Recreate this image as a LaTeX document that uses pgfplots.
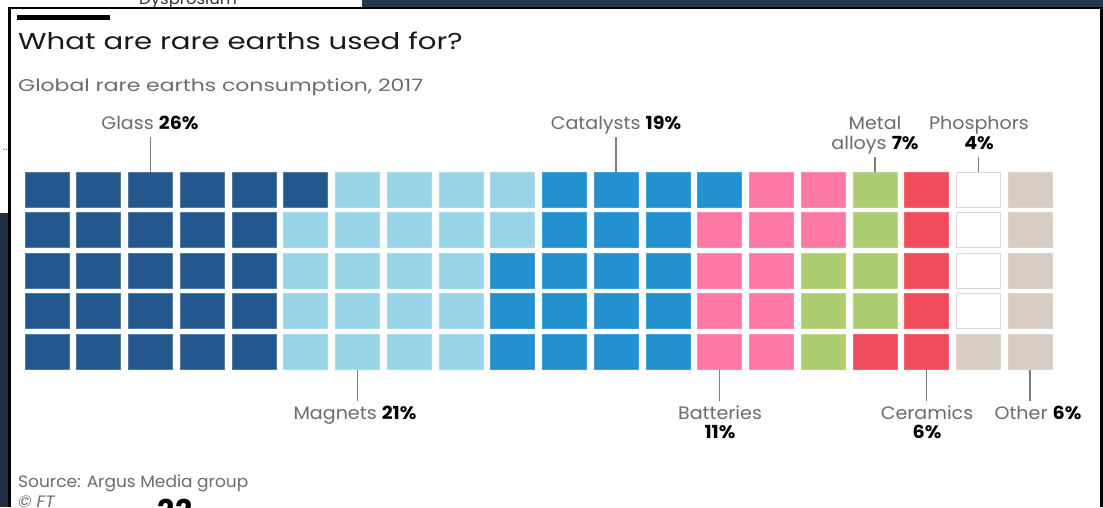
\documentclass[border=0pt]{standalone}
\usepackage{fontspec}
\setmainfont{Poppins}
\newfontfamily\ftitle[FakeStretch=1.27]{Poppins}
\newfontfamily\fsub[FakeStretch=1.29]{Poppins}
\newfontfamily\flab[FakeStretch=1.06]{Poppins}
\newfontfamily\fsrc[FakeStretch=1.03]{Poppins}
\usepackage{pgfplots}
\pgfplotsset{compat=1.18}
\definecolor{cglass}{RGB}{36,88,140}
\definecolor{cmagnets}{RGB}{152,211,232}
\definecolor{ccatal}{RGB}{35,144,208}
\definecolor{cbatt}{RGB}{255,121,165}
\definecolor{calloy}{RGB}{173,206,112}
\definecolor{cceram}{RGB}{240,76,92}
\definecolor{cphos}{RGB}{255,255,255}
\definecolor{cother}{RGB}{216,205,196}
\definecolor{cnavy}{RGB}{38,54,78}
\definecolor{ctxt}{RGB}{108,108,108}
\definecolor{cline}{RGB}{125,125,125}
\pgfdeclareplotmark{waf}{\pgfpathrectangle{\pgfqpoint{-22bp}{-17.5bp}}{\pgfqpoint{44bp}{35bp}}\pgfusepathqfillstroke}
\newcommand{\pxc}[2]{axis cs:{(#1-47)/51.74},{(#2-189.5)/40.5}}
\newcommand{\fs}[1]{\fontsize{#1bp}{#1bp}\selectfont}
\begin{document}
\begin{tikzpicture}
\begin{axis}[scale only axis, width=1103bp, height=507bp,
  xmin=-0.908387, xmax=20.409741, ymin=-4.679012, ymax=7.839506,
  y dir=reverse, hide axis, clip=true,
  every axis plot/.append style={only marks, mark=waf, line width=0.6bp}]
% frame of the screenshot
\fill[white] (\pxc{0}{0}) rectangle (\pxc{1103}{507});
\fill[cnavy] (\pxc{362}{0}) rectangle (\pxc{1103}{8});
\fill[cnavy!85!black] (\pxc{0}{213}) rectangle (\pxc{9}{507});
\node[anchor=base, font=\fsrc\fs{16}, text=black!80] at (\pxc{188}{4}) {Dysprosium};
\node[anchor=base east, font=\fs{12}, text=black!60, inner sep=0pt] at (\pxc{8}{150}) {..};
\draw[black, line width=2.2bp] (\pxc{9.5}{507}) -- (\pxc{9.5}{8}) -- (\pxc{1101.5}{8}) -- (\pxc{1101.5}{507});
\fill[black] (\pxc{17}{15}) rectangle (\pxc{110}{20});
% waffle data: column, row
\addplot[mark options={fill=cglass, draw=cglass!80!white}] coordinates {
 (0,0)(0,1)(0,2)(0,3)(0,4) (1,0)(1,1)(1,2)(1,3)(1,4) (2,0)(2,1)(2,2)(2,3)(2,4)
 (3,0)(3,1)(3,2)(3,3)(3,4) (4,0)(4,1)(4,2)(4,3)(4,4) (5,0)};
\addplot[mark options={fill=cmagnets, draw=cmagnets!85!white}] coordinates {
 (5,1)(5,2)(5,3)(5,4) (6,0)(6,1)(6,2)(6,3)(6,4) (7,0)(7,1)(7,2)(7,3)(7,4)
 (8,0)(8,1)(8,2)(8,3)(8,4) (9,0)(9,1)};
\addplot[mark options={fill=ccatal, draw=ccatal!85!white}] coordinates {
 (9,2)(9,3)(9,4) (10,0)(10,1)(10,2)(10,3)(10,4) (11,0)(11,1)(11,2)(11,3)(11,4)
 (12,0)(12,1)(12,2)(12,3)(12,4) (13,0)};
\addplot[mark options={fill=cbatt, draw=cbatt!85!white}] coordinates {
 (13,1)(13,2)(13,3)(13,4) (14,0)(14,1)(14,2)(14,3)(14,4) (15,0)(15,1)};
\addplot[mark options={fill=calloy, draw=calloy!85!white}] coordinates {
 (15,2)(15,3)(15,4) (16,0)(16,1)(16,2)(16,3)};
\addplot[mark options={fill=cceram, draw=cceram!85!white}] coordinates {
 (16,4) (17,0)(17,1)(17,2)(17,3)(17,4)};
\addplot[mark options={fill=cphos, draw=black!15}] coordinates {
 (18,0)(18,1)(18,2)(18,3)};
\addplot[mark options={fill=cother, draw=cother!85!white}] coordinates {
 (18,4) (19,0)(19,1)(19,2)(19,3)(19,4)};
% titles
\node[anchor=base west, inner sep=0pt, font=\ftitle\fs{23}, text=black!90] at (\pxc{18}{49}) {What are rare earths used for?};
\node[anchor=base west, inner sep=0pt, font=\fsub\fs{17}, text=ctxt] at (\pxc{18}{91}) {Global rare earths consumption, 2017};
% leader lines
\draw[cline, line width=1.5bp] (\pxc{150.5}{137}) -- (\pxc{150.5}{172});
\draw[cline, line width=1.5bp] (\pxc{616}{137}) -- (\pxc{616}{172});
\draw[cline, line width=1.5bp] (\pxc{875}{157}) -- (\pxc{875}{172});
\draw[cline, line width=1.5bp] (\pxc{978.5}{157}) -- (\pxc{978.5}{172});
\draw[cline, line width=1.5bp] (\pxc{357.5}{368}) -- (\pxc{357.5}{401});
\draw[cline, line width=1.5bp] (\pxc{719.5}{368}) -- (\pxc{719.5}{401});
\draw[cline, line width=1.5bp] (\pxc{926.5}{368}) -- (\pxc{926.5}{401});
\draw[cline, line width=1.5bp] (\pxc{1030}{368}) -- (\pxc{1030}{401});
% labels
\tikzset{lab/.style={anchor=base, inner sep=0pt, font=\flab\fs{18}, text=ctxt}}
\node[lab] at (\pxc{150}{129}) {Glass \textcolor{black}{\textbf{26\%}}};
\node[lab] at (\pxc{616}{129}) {Catalysts \textcolor{black}{\textbf{19\%}}};
\node[lab] at (\pxc{875}{129}) {Metal};
\node[lab] at (\pxc{875}{149}) {alloys \textcolor{black}{\textbf{7\%}}};
\node[lab] at (\pxc{979}{129}) {Phosphors};
\node[lab] at (\pxc{979}{149}) {\textcolor{black}{\textbf{4\%}}};
\node[lab] at (\pxc{355}{419}) {Magnets \textcolor{black}{\textbf{21\%}}};
\node[lab] at (\pxc{720}{419}) {Batteries};
\node[lab] at (\pxc{720}{438}) {\textcolor{black}{\textbf{11\%}}};
\node[lab] at (\pxc{927}{419}) {Ceramics};
\node[lab] at (\pxc{927}{438}) {\textcolor{black}{\textbf{6\%}}};
\node[lab] at (\pxc{1038}{419}) {Other \textcolor{black}{\textbf{6\%}}};
% source
\node[anchor=base west, inner sep=0pt, font=\fsrc\fs{16.5}, text=ctxt] at (\pxc{18}{487}) {Source: Argus Media group};
\node[anchor=base west, inner sep=0pt, font=\fsrc\fs{16.5}\itshape, text=ctxt] at (\pxc{18}{507}) {\textcopyright{} FT};
\node[anchor=north, inner sep=0pt, font=\fs{30}\bfseries, text=black] at (\pxc{175}{499}) {22};
\end{axis}
\pgfresetboundingbox
\useasboundingbox (current axis.south west) rectangle (current axis.north east);
\end{tikzpicture}
\end{document}
